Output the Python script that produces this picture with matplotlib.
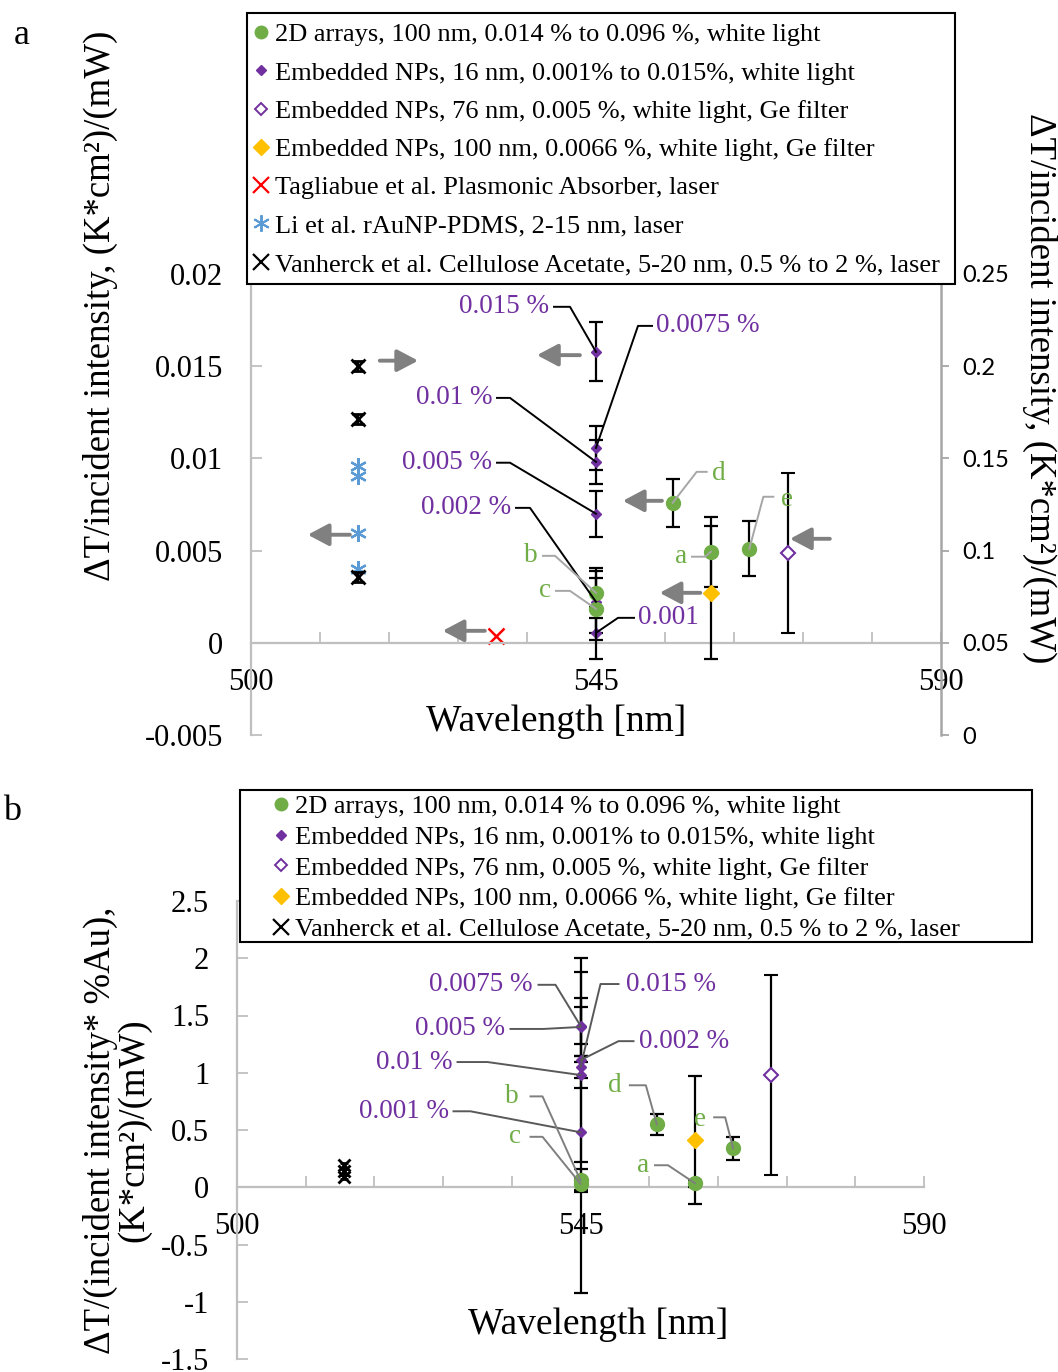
import matplotlib
matplotlib.use("Agg")
import matplotlib.pyplot as plt
from matplotlib.lines import Line2D
from matplotlib.patches import Rectangle
from matplotlib.transforms import IdentityTransform
import numpy as np

plt.rcParams['font.family'] = ['Liberation Serif', 'DejaVu Serif']

# ---------------- data ----------------
# 2D arrays (samples a-e)
labels_2d = ['a', 'b', 'c', 'd', 'e']
wl_2d = [560, 545, 545, 555, 565]
dT_2d = [0.00494, 0.00271, 0.00184, 0.00759, 0.0051]
err_2d = [0.0019, 0.00136, 0.0017, 0.0013, 0.0015]
norm_2d = [0.035, 0.06, 0.03, 0.55, 0.34]
err_norm_2d = [0.03, 0.10, 0.05, 0.09, 0.10]

# Embedded NPs, 16 nm, by Au concentration
conc_labels_a = ['0.001', '0.002 %', '0.005 %', '0.0075 %', '0.01 %', '0.015 %']
conc_labels_b = ['0.001 %', '0.002 %', '0.005 %', '0.0075 %', '0.01 %', '0.015 %']
wl_16 = [545, 545, 545, 545, 545, 545]
dT_16 = [0.00054, 0.00222, 0.0070, 0.01057, 0.00981, 0.01578]
err_16 = [0.0014, 0.0017, 0.00125, 0.0012, 0.0012, 0.0016]
norm_16 = [0.48, 1.11, 1.40, 1.41, 0.98, 1.05]
err_norm_16 = [1.40, 0.89, 0.25, 0.16, 0.11, 0.10]

# Embedded NPs, 76 nm (Ge filter) - right axis in panel a
wl_76 = [570]
dT_76 = [0.0987]
err_76 = [0.0434]
norm_76 = [0.98]
err_norm_76 = [0.87]

# Embedded NPs, 100 nm (Ge filter)
wl_100 = [560]
dT_100 = [0.00271]
err_100 = [0.0036]
norm_100 = [0.41]
err_norm_100 = [0.56]

# Tagliabue et al.
wl_tag = [532]
dT_tag = [0.00038]

# Li et al.
wl_li = [514, 514, 514, 514]
dT_li = [0.0096, 0.00906, 0.00597, 0.00401]

# Vanherck et al. - right axis in panel a
wl_van = [514, 514, 514]
dT_van = [0.2001, 0.1714, 0.0857]
err_van = [0.0027, 0.0027, 0.0027]
norm_van = [0.19, 0.14, 0.09]
err_norm_van = [0.02, 0.02, 0.02]

legend_a = ['2D arrays, 100 nm, 0.014 % to 0.096 %, white light',
            'Embedded NPs, 16 nm, 0.001% to 0.015%, white light',
            'Embedded NPs, 76 nm, 0.005 %, white light, Ge filter',
            'Embedded NPs, 100 nm, 0.0066 %, white light, Ge filter',
            'Tagliabue et al. Plasmonic Absorber, laser',
            'Li et al. rAuNP-PDMS, 2-15 nm, laser',
            'Vanherck et al. Cellulose Acetate, 5-20 nm, 0.5 % to 2 %, laser']

yticks_a = [-0.005, 0, 0.005, 0.01, 0.015, 0.02]
yticklabels_a = ['-0.005', '0', '0.005', '0.01', '0.015', '0.02']
yticks_a_right = [0, 0.05, 0.1, 0.15, 0.2, 0.25]
yticklabels_a_right = ['0', '0.05', '0.1', '0.15', '0.2', '0.25']
yticks_b = [-1.5, -1, -0.5, 0, 0.5, 1, 1.5, 2, 2.5]
yticklabels_b = ['-1.5', '-1', '-0.5', '0', '0.5', '1', '1.5', '2', '2.5']
xticks = [500, 545, 590]

# ---------------- style ----------------
GREEN = '#70AD47'
PURPLE = '#7030A0'
ORANGE = '#FFC000'
RED = '#FF0000'
BLUE = '#5B9BD5'
ARROW = '#808080'
AXIS = '#BFBFBF'
LEAD_G = '#A6A6A6'
LABEL_SIZE = 19.5

W, H = 1058, 1372
fig = plt.figure(figsize=(W / 100, H / 100), dpi=100)


def box(l, t, r, b):
    return [l / W, 1 - b / H, (r - l) / W, (b - t) / H]


axa = fig.add_axes(box(251, 274, 941, 735))
axr = axa.twinx()
axb = fig.add_axes(box(237, 901, 924, 1359))


def style_axes(ax, ylim, yt, ytl):
    ax.set_xlim(500, 590)
    ax.set_ylim(*ylim)
    ax.patch.set_visible(False)
    ax.spines['top'].set_visible(False)
    ax.spines['right'].set_visible(False)
    ax.spines['bottom'].set_position(('data', 0))
    for s in ('left', 'bottom'):
        ax.spines[s].set_color(AXIS)
        ax.spines[s].set_linewidth(1.6)
    ax.set_xticks(xticks)
    ax.set_xticks(np.arange(509, 590, 9), minor=True)
    ax.set_xticklabels([str(t) for t in xticks])
    ax.set_yticks(yt)
    ax.set_yticklabels(ytl)
    ax.tick_params(axis='x', which='both', direction='in', length=8, width=1.3,
                   color=AXIS, labelsize=22, pad=18)
    ax.tick_params(axis='y', direction='in', length=8, width=1.3,
                   color=AXIS, labelsize=22, pad=20)


style_axes(axa, (-0.005, 0.02), yticks_a, yticklabels_a)
style_axes(axb, (-1.5, 2.5), yticks_b, yticklabels_b)

axr.set_ylim(0, 0.25)
axr.set_yticks(yticks_a_right)
axr.set_yticklabels(yticklabels_a_right, family='Lato')
for s in ('top', 'left', 'bottom'):
    axr.spines[s].set_visible(False)
axr.spines['right'].set_color('#A6A6A6')
axr.spines['right'].set_linewidth(1.8)
axr.tick_params(axis='y', direction='out', length=6, width=1.3, color='#A6A6A6',
                labelsize=17, pad=9)

eb = dict(ecolor='black', elinewidth=1.6, capsize=5, capthick=1.6, linestyle='none')

# ---------------- panel a ----------------
axa.errorbar(wl_16, dT_16, yerr=err_16, fmt='D', color=PURPLE, ms=5, zorder=3, **eb)
axa.errorbar(wl_2d, dT_2d, yerr=err_2d, fmt='o', color=GREEN, ms=10, zorder=4, **eb)
axa.errorbar(wl_100, dT_100, yerr=err_100, fmt='D', color=ORANGE, ms=8, zorder=4, **eb)
axa.plot(wl_tag, dT_tag, 'x', color=RED, ms=11, mew=1.8, linestyle='none')
axa.plot(wl_li, dT_li, marker=(6, 2, 0), color=BLUE, ms=12, mew=1.6, linestyle='none')
axr.errorbar(wl_76, dT_76, yerr=err_76, fmt='D', color=PURPLE, mfc='white', ms=7,
             mew=1.5, zorder=3, **eb)
axr.errorbar(wl_van, dT_van, yerr=err_van, fmt='x', color='black', ms=10, mew=2,
             ecolor='black', elinewidth=1.5, capsize=4, capthick=1.5, linestyle='none')

# arrows showing which axis each series refers to
arrow_kw = dict(arrowstyle='-|>,head_length=0.85,head_width=0.45', color=ARROW, lw=2.8,
                mutation_scale=15, shrinkA=0, shrinkB=0)
for (x0, x1, y) in [(516.8, 521.8, 0.0153), (542.9, 537.3, 0.0156),
                    (512.9, 507.4, 0.00586), (530.5, 525.0, 0.00065),
                    (553.6, 548.5, 0.0077), (558.6, 553.3, 0.00271),
                    (575.5, 570.3, 0.00564)]:
    axa.annotate('', xy=(x1, y), xytext=(x0, y), arrowprops=arrow_kw, zorder=5)


def leader(ax, x, y, elbow, end, txt, label, tcolor, lcolor, ha, size=LABEL_SIZE):
    px, py = ax.transData.transform((x, y))
    xs = [px, px + elbow[0], px + end[0]]
    ys = [py, py - elbow[1], py - end[1]]
    fig.add_artist(Line2D(xs, ys, transform=IdentityTransform(), color=lcolor,
                          lw=1.4, zorder=6))
    fig.text(px + txt[0], py - txt[1], label, transform=IdentityTransform(),
             color=tcolor, fontsize=size, ha=ha, va='center', zorder=7)


lead_a_16 = [((22, -15), (38, -15), (42, -15), 'left'),
             ((-66, -94), (-80, -94), (-85, -94), 'right'),
             ((-86, -51), (-99, -51), (-104, -51), 'right'),
             ((42, -122), (56, -122), (60, -122), 'left'),
             ((-86, -64), (-99, -64), (-104, -64), 'right'),
             ((-26, -45), (-42, -45), (-47, -45), 'right')]
for i, (e1, e2, t, ha) in enumerate(lead_a_16):
    leader(axa, wl_16[i], dT_16[i], e1, e2, t, conc_labels_a[i], PURPLE, 'black', ha)

lead_a_2d = [((-6, 5), (-19, 5), (-24, 5), 'right'),
             ((-41, -37), (-53, -37), (-58, -37), 'right'),
             ((-26, -18), (-40, -18), (-45, -18), 'right'),
             ((24, -31), (34, -31), (39, -29), 'left'),
             ((14, -52), (24, -52), (32, -49), 'left')]
for i, (e1, e2, t, ha) in enumerate(lead_a_2d):
    leader(axa, wl_2d[i], dT_2d[i], e1, e2, t, labels_2d[i], GREEN, LEAD_G, ha)

# ---------------- panel b ----------------
axb.errorbar(wl_16, norm_16, yerr=err_norm_16, fmt='D', color=PURPLE, ms=5, zorder=3, **eb)
axb.errorbar(wl_2d, norm_2d, yerr=err_norm_2d, fmt='o', color=GREEN, ms=10, zorder=4, **eb)
axb.errorbar(wl_100, norm_100, yerr=err_norm_100, fmt='D', color=ORANGE, ms=8, zorder=4, **eb)
axb.errorbar(wl_76, norm_76, yerr=err_norm_76, fmt='D', color=PURPLE, mfc='white', ms=7,
             mew=1.5, zorder=3, **eb)
axb.errorbar(wl_van, norm_van, yerr=err_norm_van, fmt='x', color='black', ms=8, mew=2,
             ecolor='black', elinewidth=1.5, capsize=3, capthick=1.5, linestyle='none')

lead_b_16 = [((-110, -21), (-127, -21), (-132, -21), 'right'),
             ((38, -19), (53, -19), (58, -19), 'left'),
             ((-37, 2), (-70, 2), (-76, 2), 'right'),
             ((-25, -41), (-42, -41), (-48, -41), 'right'),
             ((-93, -13), (-123, -13), (-128, -13), 'right'),
             ((20, -83), (38, -83), (45, -83), 'left')]
for i, (e1, e2, t, ha) in enumerate(lead_b_16):
    leader(axb, wl_16[i], norm_16[i], e1, e2, t, conc_labels_b[i], PURPLE, '#595959', ha)

lead_b_2d = [((-27, -18), (-40, -18), (-46, -18), 'right'),
             ((-38, -84), (-50, -84), (-62, -84), 'right'),
             ((-38, -47), (-50, -47), (-60, -47), 'right'),
             ((-11, -39), (-27, -39), (-35, -39), 'right'),
             ((-8, -31), (-19, -31), (-27, -29), 'right')]
for i, (e1, e2, t, ha) in enumerate(lead_b_2d):
    leader(axb, wl_2d[i], norm_2d[i], e1, e2, t, labels_2d[i], GREEN, '#7F7F7F', ha)

# ---------------- legends ----------------
handles = [
    Line2D([], [], marker='o', color=GREEN, ms=9, linestyle='none'),
    Line2D([], [], marker='D', color=PURPLE, ms=5, linestyle='none'),
    Line2D([], [], marker='D', color=PURPLE, mfc='white', ms=6.5, mew=1.4, linestyle='none'),
    Line2D([], [], marker='D', color=ORANGE, ms=8, linestyle='none'),
    Line2D([], [], marker='x', color=RED, ms=11, mew=1.6, linestyle='none'),
    Line2D([], [], marker=(6, 2, 0), color=BLUE, ms=12, mew=1.4, linestyle='none'),
    Line2D([], [], marker='x', color='black', ms=11, mew=1.6, linestyle='none'),
]


def legend_frame(l, t, r, b):
    fig.add_artist(Rectangle((l / W, 1 - b / H), (r - l) / W, (b - t) / H,
                             transform=fig.transFigure, facecolor='white',
                             edgecolor='black', lw=1.5, zorder=8))


leg_kw = dict(loc='upper left', frameon=False, fontsize=19, handlelength=0.55,
              handletextpad=0.25, borderpad=0, borderaxespad=0)

legend_frame(247, 13, 955, 284)
la = fig.legend(handles, legend_a, bbox_to_anchor=(254 / W, 1 - 23 / H),
                labelspacing=0.56, **leg_kw)
la.set_zorder(9)

sel = [0, 1, 2, 3, 6]
legend_frame(240, 790, 1032, 942)
lb = fig.legend([handles[i] for i in sel], [legend_a[i] for i in sel],
                bbox_to_anchor=(274 / W, 1 - 795 / H), labelspacing=0.27, **leg_kw)
lb.set_zorder(9)

# ---------------- titles and axis labels ----------------
fig.text(22 / W, 1 - 35 / H, 'a', fontsize=26, ha='center', va='center')
fig.text(12 / W, 1 - 812 / H, 'b', fontsize=26, ha='center', va='center')
fig.text(556 / W, 1 - 722 / H, 'Wavelength [nm]', fontsize=27, ha='center', va='center')
fig.text(598 / W, 1 - 1325 / H, 'Wavelength [nm]', fontsize=27, ha='center', va='center')
fig.text(100 / W, 1 - 306 / H, 'ΔT/incident intensity, (K*cm²)/(mW)', fontsize=26.5,
         rotation=90, ha='center', va='center')
fig.text(1040 / W, 1 - 388 / H, 'ΔT/incident intensity, (K*cm²)/(mW)', fontsize=26.5,
         rotation=270, ha='center', va='center')
fig.text(117 / W, 1 - 1130 / H, 'ΔT/(incident intensity* %Au),\n(K*cm²)/(mW)', fontsize=26.5,
         rotation=90, ha='center', va='center', multialignment='center', linespacing=0.95)

fig.savefig('out.png', dpi=100)
